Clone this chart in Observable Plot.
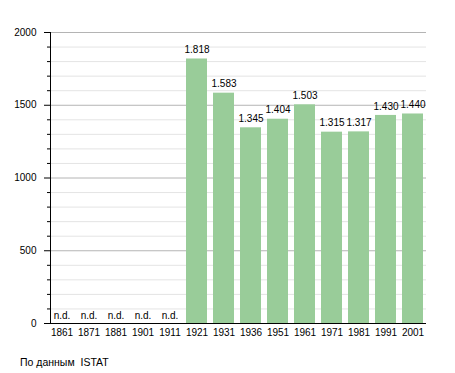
<!DOCTYPE html>
<html>
<head>
<meta charset="utf-8">
<script src="https://cdn.jsdelivr.net/npm/d3@7"></script>
<script src="https://cdn.jsdelivr.net/npm/@observablehq/plot@0.6"></script>
<style>
body { margin: 0; background: #fff; font-family: "Liberation Sans", Arial, sans-serif; }
#wrap { position: relative; width: 455px; height: 373px; }
#caption { position: absolute; left: 20px; top: 356px; font-size: 10.5px; color: #000; white-space: pre; }
</style>
</head>
<body>
<div id="wrap"><div id="chart"></div><div id="caption">По данным  ISTAT</div></div>
<script>
const years = ["1861","1871","1881","1901","1911","1921","1931","1936","1951","1961","1971","1981","1991","2001"];
const population = [null, null, null, null, null, 1818, 1583, 1345, 1404, 1503, 1315, 1317, 1430, 1440];
const missingLabel = "n.d.";
const yMajorTicks = [0, 500, 1000, 1500, 2000];

const data = years.map((y, i) => ({year: y, value: population[i]}));
const present = data.filter(d => d.value != null);
const missing = data.filter(d => d.value == null);
const minor = d3.range(0, 2001, 100).filter(v => v % 500 !== 0);
const fmt = v => d3.format(",")(v).replace(/,/g, ".");

const chart = Plot.plot({
  width: 455,
  height: 345,
  marginLeft: 50,
  marginRight: 29,
  marginTop: 32,
  marginBottom: 22,
  style: {fontFamily: "Liberation Sans, Arial, sans-serif", fontSize: "10px", color: "#000", background: "#fff"},
  x: {domain: years, range: [48, 426], paddingInner: 0.22, paddingOuter: 0, label: null},
  y: {domain: [0, 2000], label: null},
  marks: [
    Plot.ruleY(minor, {stroke: "#e4e4e4", strokeOpacity: 1}),
    Plot.ruleY(yMajorTicks.filter(v => v > 0), {stroke: "#b4b4b4", strokeOpacity: 1}),
    Plot.barY(present, {x: "year", y: "value", fill: "#99cc99"}),
    Plot.text(present, {x: "year", y: "value", text: d => fmt(d.value), dy: -9, fontSize: 10, fill: "#000"}),
    Plot.text(missing, {x: "year", y: 0, text: () => missingLabel, dy: -8, fontSize: 10, fill: "#000"}),
    Plot.axisY({ticks: minor, tickSize: 3, text: null, stroke: "#000"}),
    Plot.axisY({ticks: yMajorTicks, tickSize: 6, tickPadding: 8, tickFormat: d => String(d), label: null, fontSize: 10, stroke: "#000"}),
    Plot.axisX({tickSize: 0, tickPadding: 5, label: null, fontSize: 10}),
    Plot.frame({anchor: "left", stroke: "#000"}),
    Plot.ruleY([0], {stroke: "#000"})
  ]
});
document.getElementById("chart").appendChild(chart);
</script>
</body>
</html>
